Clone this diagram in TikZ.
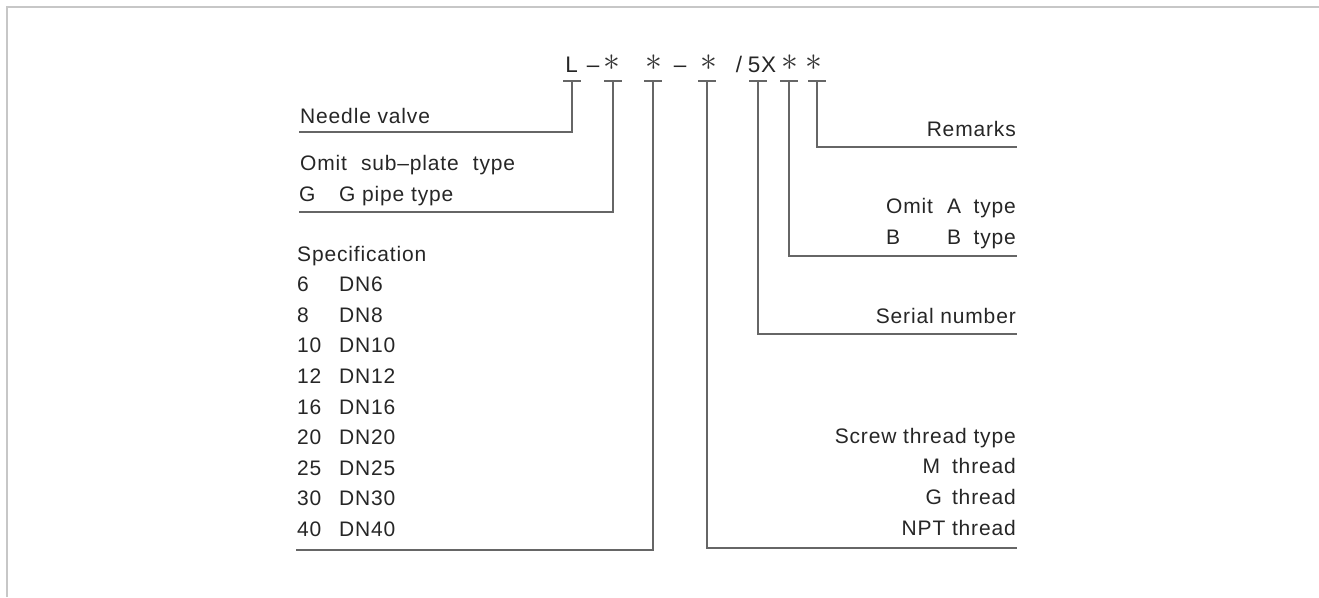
\documentclass[tikz,border=0pt]{standalone}
\usepackage{fontspec}
\setmainfont{Liberation Sans}[LetterSpace=4]
\begin{document}
\begin{tikzpicture}[x=1pt,y=-1pt,
  lbl/.style={inner sep=0pt, font=\fontsize{21}{21}\selectfont, text=black!85},
  codech/.style={inner sep=0pt, font=\fontsize{22.5}{22.5}\selectfont, text=black!85},
  star/.style={inner sep=0pt, font=\fontsize{24.88}{24.88}\selectfont, text=black!80, scale=1.35},
  lead/.style={draw=black!60, line width=1.2pt},
  tick/.style={draw=black!60, line width=1.2pt},
  frame/.style={draw=black!22, line width=2pt}
]
\useasboundingbox (0,0) rectangle (1319,597);
\draw[frame] (6.5,597) -- (6.5,7) -- (1319,7);

% code string
\node[codech, anchor=base] (cL) at (571.5,72) {L};
\node[codech, anchor=base] (cd1) at (593,72) {–};
\node[star] (s1) at (612,63) {$\ast$};
\node[star] (s2) at (654,63) {$\ast$};
\node[codech, anchor=base] (cd2) at (680,72) {–};
\node[star] (s3) at (709,63) {$\ast$};
\node[codech, anchor=base] (cslash) at (739,72) {/};
\node[codech, anchor=base] (c5x) at (762,72) {5X};
\node[star] (s4) at (790,63) {$\ast$};
\node[star] (s5) at (814,63) {$\ast$};

% tick points
\coordinate (t1) at (572,81);
\coordinate (t2) at (613,81);
\coordinate (t3) at (653,81);
\coordinate (t4) at (707,81);
\coordinate (t5) at (758,81);
\coordinate (t6) at (789,81);
\coordinate (t7) at (817,81);
\foreach \t in {t1,t2,t3,t4,t5,t6,t7}{
  \draw[tick] ([xshift=-9pt]\t) -- ([xshift=9pt]\t);
}

% line ends
\coordinate (e1) at (299,132);
\coordinate (e2) at (299,212);
\coordinate (e3) at (296,550);
\coordinate (e4) at (1017,548);
\coordinate (e5) at (1017,334);
\coordinate (e6) at (1017,256);
\coordinate (e7) at (1017,147);

\draw[lead] (t1) |- (e1);
\draw[lead] (t2) |- (e2);
\draw[lead] (t3) |- (e3);
\draw[lead] (t4) |- (e4);
\draw[lead] (t5) |- (e5);
\draw[lead] (t6) |- (e6);
\draw[lead] (t7) |- (e7);

% left labels
\node[lbl, anchor=base west] (nv) at (300,123) {Needle valve};
\node[lbl, anchor=base west] (om) at (300,170) {Omit\hspace{14pt}sub–plate\hspace{14pt}type};
\node[lbl, anchor=base west] (g1) at (299,201) {G};
\node[lbl, anchor=base west] (g2) at (339,201) {G pipe type};
\node[lbl, anchor=base west] (sp) at (297,261) {Specification};
\foreach \n/\y [count=\i] in {6/291.6,8/322.2,10/352.8,12/383.4,16/414,20/444.6,25/475.2,30/505.8,40/536.4}{
  \node[lbl, anchor=base west] (sn\i) at (297,\y) {\n};
  \node[lbl, anchor=base west] (sd\i) at (339,\y) {DN\n};
}

% right labels
\node[lbl, anchor=base east] (rm) at (1016,136) {Remarks};
\node[lbl, anchor=base west] (oa1) at (886,213) {Omit};
\node[lbl, anchor=base west] (oa2) at (947,213) {A};
\node[lbl, anchor=base east] (oa3) at (1016,213) {type};
\node[lbl, anchor=base west] (bb1) at (886,244) {B};
\node[lbl, anchor=base west] (bb2) at (947,244) {B};
\node[lbl, anchor=base east] (bb3) at (1016,244) {type};
\node[lbl, anchor=base east] (sr) at (1016,323) {Serial number};
\node[lbl, anchor=base east] (st) at (1016,443) {Screw thread type};
\node[lbl, anchor=base east] (mt) at (1016,473.5) {M\hspace{12pt}thread};
\node[lbl, anchor=base east] (gt) at (1016,504) {G\hspace{10pt}thread};
\node[lbl, anchor=base east] (nt) at (1016,535) {NPT thread};
\end{tikzpicture}
\end{document}
